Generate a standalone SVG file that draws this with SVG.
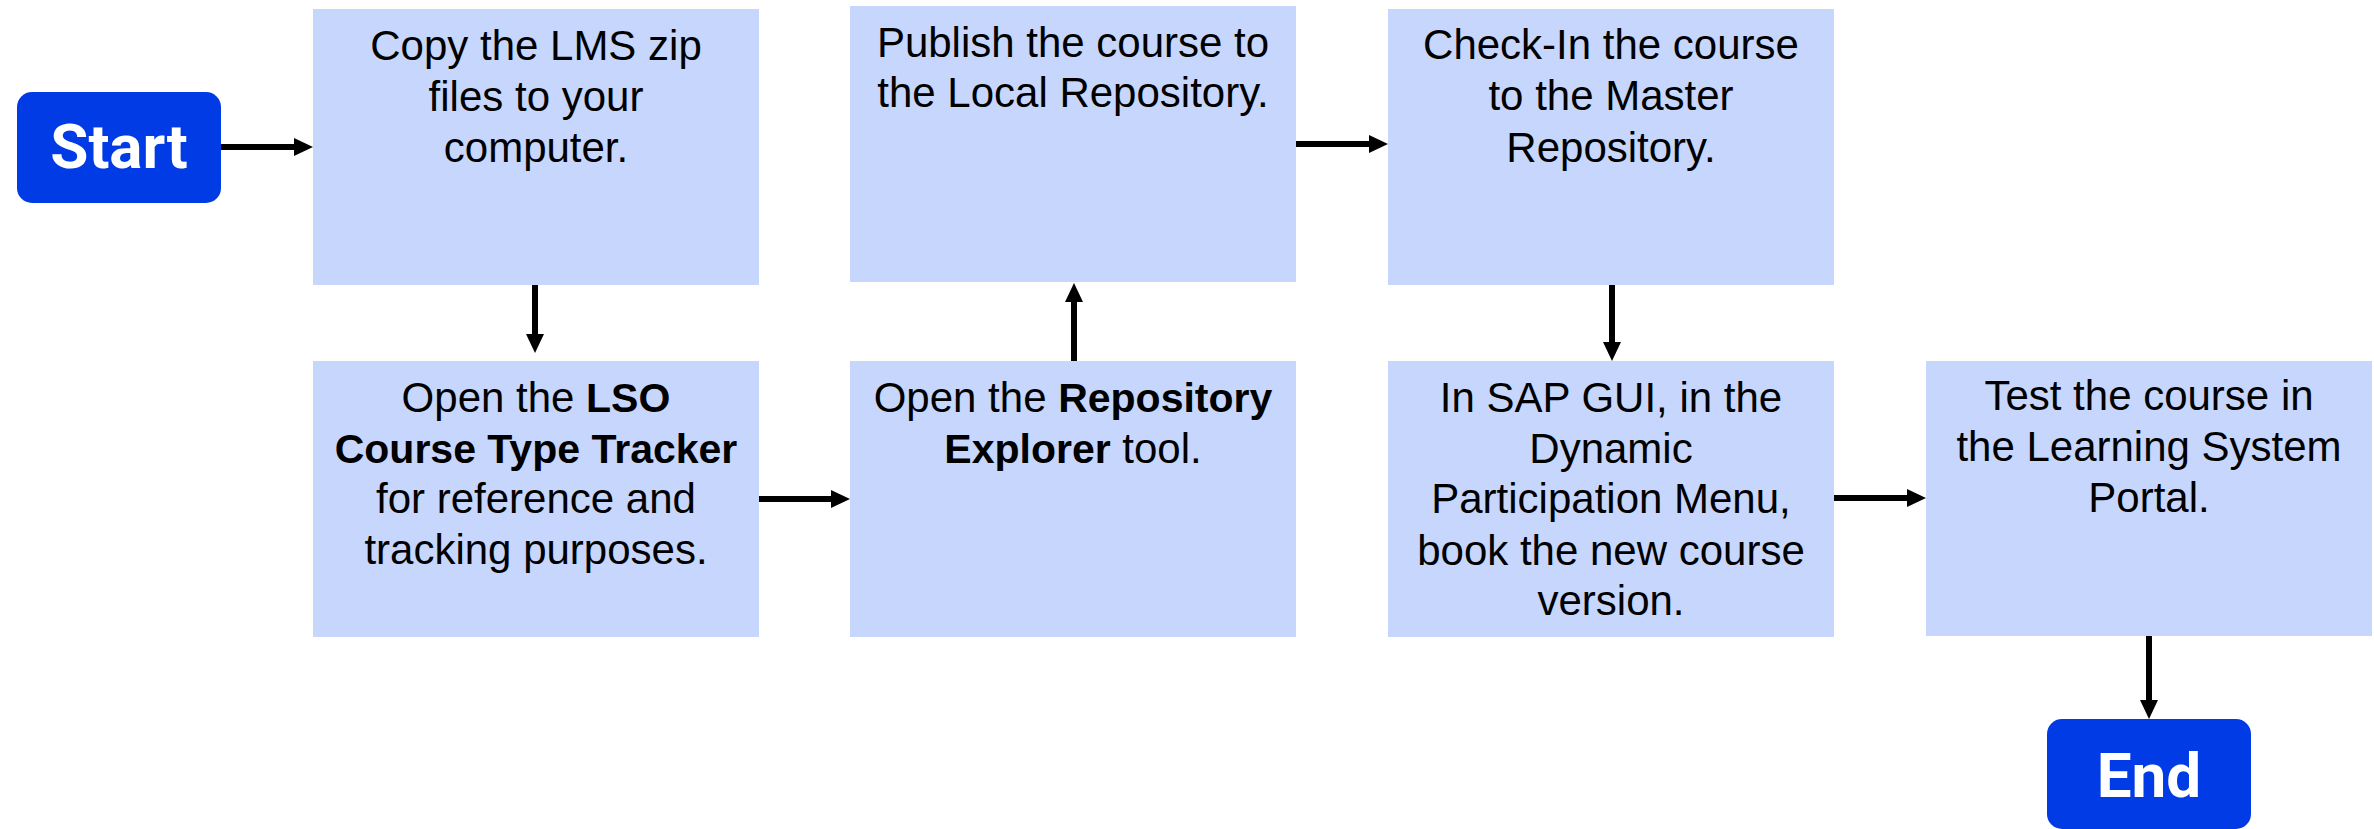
<svg xmlns="http://www.w3.org/2000/svg" width="2374" height="829" viewBox="0 0 2374 829">
<style>
.box{fill:#C6D6FD;}
.term{fill:#003BE5;}
.t{font-family:"Liberation Sans",Arial,sans-serif;font-size:42px;fill:#000;text-anchor:middle;}
.b{font-weight:bold;font-size:41px;}
.tt{font-family:Roboto,"Liberation Sans",sans-serif;font-weight:bold;font-size:62px;fill:#fff;text-anchor:middle;}
.c{stroke:#000;stroke-width:6;fill:none;}
</style>
<defs>
<marker id="ah" markerUnits="userSpaceOnUse" markerWidth="19" markerHeight="18" refX="0" refY="9" orient="auto">
<path d="M0,0 L19,9 L0,18 Z" fill="#000"/>
</marker>
</defs>
<rect width="2374" height="829" fill="#fff"/>
<g id="connectors">
<line class="c" x1="221" y1="147" x2="294" y2="147" marker-end="url(#ah)"/>
<line class="c" x1="535" y1="285" x2="535" y2="334" marker-end="url(#ah)"/>
<line class="c" x1="759" y1="499" x2="831" y2="499" marker-end="url(#ah)"/>
<line class="c" x1="1074" y1="361" x2="1074" y2="302" marker-end="url(#ah)"/>
<line class="c" x1="1296" y1="144" x2="1369" y2="144" marker-end="url(#ah)"/>
<line class="c" x1="1612" y1="285" x2="1612" y2="342" marker-end="url(#ah)"/>
<line class="c" x1="1834" y1="498" x2="1907" y2="498" marker-end="url(#ah)"/>
<line class="c" x1="2149" y1="636" x2="2149" y2="700" marker-end="url(#ah)"/>
</g>
<g id="start">
<rect class="term" x="17" y="92" width="204" height="111" rx="15"/>
<text class="tt" x="119" y="168">Start</text>
</g>
<g id="step1">
<rect class="box" x="313" y="9" width="446" height="276"/>
<text class="t" x="536" y="60">Copy the LMS zip</text>
<text class="t" x="536" y="111">files to your</text>
<text class="t" x="536" y="162">computer.</text>
</g>
<g id="step2">
<rect class="box" x="313" y="361" width="446" height="276"/>
<text class="t" x="536" y="412">Open the <tspan class="b">LSO</tspan></text>
<text class="t" x="536" y="463"><tspan class="b">Course Type Tracker</tspan></text>
<text class="t" x="536" y="513">for reference and</text>
<text class="t" x="536" y="564">tracking purposes.</text>
</g>
<g id="step3">
<rect class="box" x="850" y="6" width="446" height="276"/>
<text class="t" x="1073" y="57">Publish the course to</text>
<text class="t" x="1073" y="107">the Local Repository.</text>
</g>
<g id="step4">
<rect class="box" x="850" y="361" width="446" height="276"/>
<text class="t" x="1073" y="412">Open the <tspan class="b">Repository</tspan></text>
<text class="t" x="1073" y="463"><tspan class="b">Explorer</tspan> tool.</text>
</g>
<g id="step5">
<rect class="box" x="1388" y="9" width="446" height="276"/>
<text class="t" x="1611" y="59">Check-In the course</text>
<text class="t" x="1611" y="110">to the Master</text>
<text class="t" x="1611" y="162">Repository.</text>
</g>
<g id="step6">
<rect class="box" x="1388" y="361" width="446" height="276"/>
<text class="t" x="1611" y="412">In SAP GUI, in the</text>
<text class="t" x="1611" y="463">Dynamic</text>
<text class="t" x="1611" y="513">Participation Menu,</text>
<text class="t" x="1611" y="565">book the new course</text>
<text class="t" x="1611" y="615">version.</text>
</g>
<g id="step7">
<rect class="box" x="1926" y="361" width="446" height="275"/>
<text class="t" x="2149" y="410">Test the course in</text>
<text class="t" x="2149" y="461">the Learning System</text>
<text class="t" x="2149" y="512">Portal.</text>
</g>
<g id="end">
<rect class="term" x="2047" y="719" width="204" height="110" rx="15"/>
<text class="tt" x="2149" y="797">End</text>
</g>
</svg>
